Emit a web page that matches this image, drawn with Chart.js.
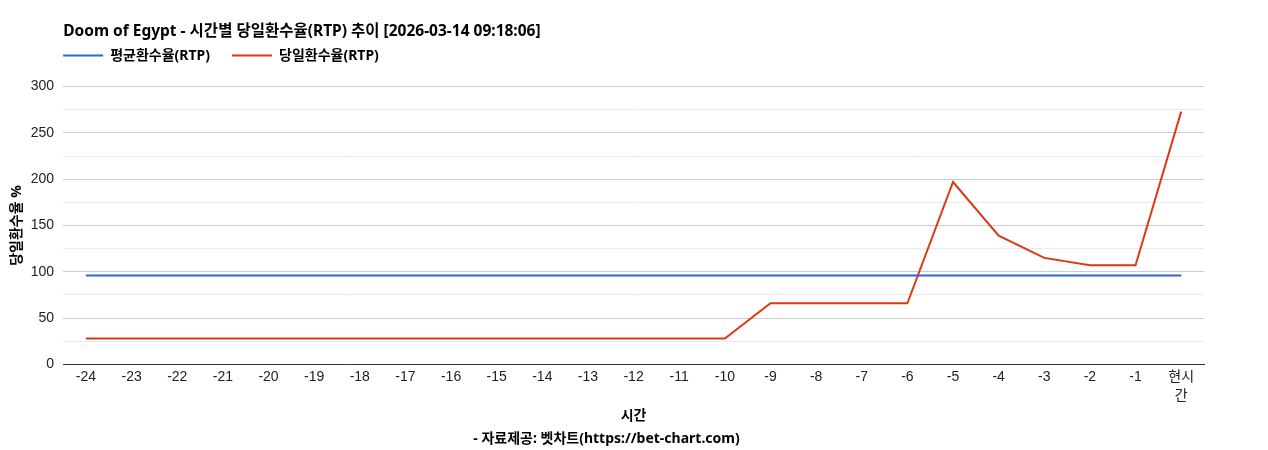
<!DOCTYPE html>
<html>
<head>
<meta charset="utf-8">
<script src="https://cdn.jsdelivr.net/npm/chart.js@4"></script>
<style>
  html, body { margin: 0; padding: 0; background: #fff; }
  #wrap { width: 1268px; height: 450px; }
</style>
</head>
<body>
<div id="wrap"><canvas id="rtpChart"></canvas></div>
<script>
const hours = ['-24','-23','-22','-21','-20','-19','-18','-17','-16','-15','-14','-13','-12','-11','-10','-9','-8','-7','-6','-5','-4','-3','-2','-1',['현시','간']];
const avgRtp = [96,96,96,96,96,96,96,96,96,96,96,96,96,96,96,96,96,96,96,96,96,96,96,96,96];
const dailyRtp = [28,28,28,28,28,28,28,28,28,28,28,28,28,28,28,66,66,66,66,197,139,115,107,107,273];
const yTicks = [0, 50, 100, 150, 200, 250, 300];

const tickFont = "'Liberation Sans', Arial, 'Noto Sans CJK KR', sans-serif";
const labelFont = "'Noto Sans', 'Noto Sans CJK KR', sans-serif";
Chart.defaults.font.family = tickFont;
Chart.defaults.color = '#222';

// legend padding is big for the gap between items; pull the box back up/left
const legendTweak = {
  id: 'legendTweak',
  afterLayout(chart) {
    const lg = chart.legend;
    lg.left -= 22;
    lg.right -= 22;
    lg.top -= 14;
    lg.bottom -= 14;
  }
};

document.addEventListener('DOMContentLoaded', function() {
  const ctx = document.getElementById('rtpChart');
  new Chart(ctx, {
    type: 'line',
    data: {
      labels: hours,
      datasets: [{
        label: '평균환수율(RTP)',
        data: avgRtp,
        borderColor: '#3366cc',
        backgroundColor: '#3366cc',
        borderWidth: 2,
        pointRadius: 0,
        tension: 0
      }, {
        label: '당일환수율(RTP)',
        data: dailyRtp,
        borderColor: '#dc3912',
        backgroundColor: '#dc3912',
        borderWidth: 2,
        pointRadius: 0,
        tension: 0
      }]
    },
    plugins: [legendTweak],
    options: {
      responsive: true,
      maintainAspectRatio: false,
      animation: false,
      layout: { padding: { left: 9, right: 64, top: 22, bottom: 0 } },
      plugins: {
        title: {
          display: true,
          fullSize: false,
          align: 'start',
          text: 'Doom of Egypt - 시간별 당일환수율(RTP) 추이 [2026-03-14 09:18:06]',
          font: { family: labelFont, size: 15.5, weight: 'bold', lineHeight: 1.2 },
          color: '#000',
          padding: { top: 0, bottom: 0 }
        },
        subtitle: {
          display: true,
          position: 'bottom',
          text: '- 자료제공: 벳차트(https://bet-chart.com)',
          font: { family: labelFont, size: 14, weight: 'bold', lineHeight: 1.2 },
          color: '#000',
          padding: { top: 6.2, bottom: 3 }
        },
        legend: {
          fullSize: false,
          align: 'start',
          labels: {
            boxWidth: 40,
            boxHeight: 2,
            padding: 22,
            color: '#000',
            font: { family: labelFont, size: 14, weight: 'bold' },
            generateLabels: function(chart) {
              return Chart.defaults.plugins.legend.labels.generateLabels(chart).map(l => {
                l.lineWidth = 0;
                return l;
              });
            }
          }
        },
        tooltip: { enabled: false }
      },
      scales: {
        x: {
          offset: true,
          grid: { display: false, drawTicks: false },
          border: { color: '#333', width: 1 },
          ticks: { font: { size: 14, lineHeight: 1.35 }, color: '#222', maxRotation: 0, autoSkip: false, padding: 3.5 },
          title: {
            display: true,
            text: '시간',
            font: { family: labelFont, size: 14, weight: 'bold', lineHeight: 1.2 },
            color: '#000',
            padding: { top: -2, bottom: 0 }
          }
        },
        y: {
          min: yTicks[0],
          max: yTicks[yTicks.length - 1],
          border: { display: false },
          grid: {
            drawTicks: false,
            color: c => (c.tick && c.tick.value % 50 === 0) ? '#cccccc' : '#ebebeb'
          },
          ticks: {
            stepSize: 25,
            padding: 9,
            font: { size: 14 },
            color: '#222',
            callback: v => yTicks.includes(v) ? v : ''
          },
          title: {
            display: true,
            text: '당일환수율 %',
            font: { family: labelFont, size: 14, weight: 'bold', lineHeight: 1.2 },
            color: '#000',
            padding: { top: 0, bottom: -4 }
          }
        }
      }
    }
  });
});
</script>
</body>
</html>
